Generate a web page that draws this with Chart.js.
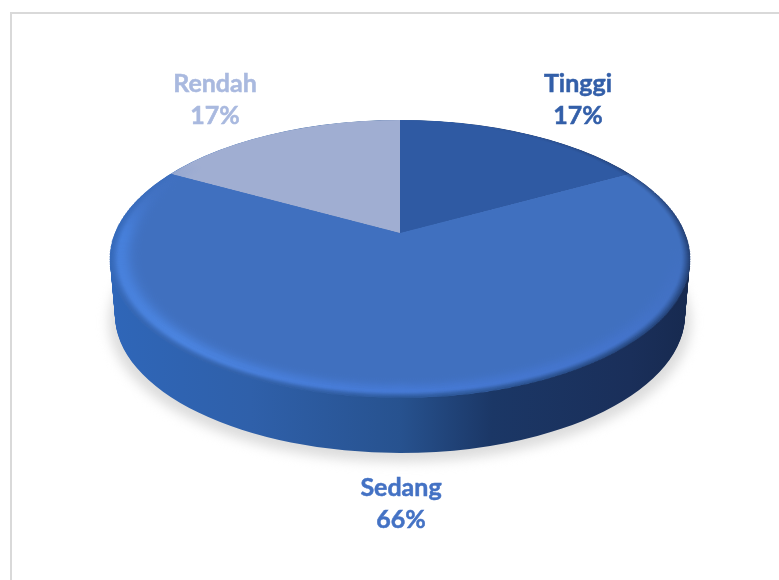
<!DOCTYPE html>
<html><head><meta charset="utf-8">
<style>
html,body{margin:0;padding:0;background:#fff;overflow:hidden;width:779px;height:580px}
#wrap{position:relative;width:779px;height:580px;overflow:hidden}
#frame{position:absolute;left:10px;top:12px;width:780px;height:600px;border:2px solid #d9d9d9;box-sizing:border-box}
#base{position:absolute;left:0;top:0}
#top{position:absolute;left:100px;top:-67px;transform-origin:50% 50%}
</style>
<script src="https://cdn.jsdelivr.net/npm/chart.js@4/dist/chart.umd.min.js"></script>
</head><body>
<div id="wrap">
<div id="frame"></div>
<canvas id="base" width="779" height="580"></canvas>
<canvas id="top" width="600" height="600"></canvas>
</div>
<script>
const categories = ['Tinggi', 'Sedang', 'Rendah'];
const values = [17, 66, 17];
const faceColors = ['#2f5aa3', '#4070bf', '#a0aed2'];
const labelColors = ['#335fa9', '#4472c4', '#a9b9df'];

// Look of the drawing (not data)
const labelAnchor = [[578, 84], [401, 488], [215, 84]];
const lineGap = 32;
const labelFont = 'bold 25px Lato, Carlito, sans-serif';
const persp = {a: 285, b: 134, w: -0.187, R: 300};
const topEllipse = {x: 400, y: 259, rx: 290, ry: 139};
const botEllipse = {x: 400, y: 315, rx: 285, ry: 138};

document.getElementById('top').style.transform =
  `matrix3d(${persp.a / persp.R},0,0,0, 0,${persp.b / persp.R},0,${persp.w / persp.R}, 0,0,1,0, 0,0,0,1)`;

function drawEllipseArcs(chart, e, fill) {
  const ctx = chart.ctx, arcs = chart.getDatasetMeta(0).data;
  const R = arcs[0].outerRadius, cx = arcs[0].x, cy = arcs[0].y;
  ctx.save();
  ctx.translate(e.x, e.y);
  ctx.scale(e.rx / R, e.ry / R);
  ctx.translate(-cx, -cy);
  arcs.forEach(arc => {
    const saved = arc.options.backgroundColor;
    arc.options.backgroundColor = fill(ctx, cx, R);
    arc.draw(ctx);
    arc.options.backgroundColor = saved;
  });
  ctx.restore();
}

const sidePlugin = {
  id: 'side',
  beforeDatasetsDraw(chart) {
    const ctx = chart.ctx;
    ctx.save();
    ctx.filter = 'blur(6px)';
    drawEllipseArcs(chart, {x: 400, y: 322, rx: 291, ry: 140}, () => '#dcdcdc');
    ctx.restore();
    const grad = (c, cx, R) => {
      const g = c.createLinearGradient(cx - R, 0, cx + R, 0);
      g.addColorStop(0, '#2f66b8');
      g.addColorStop(0.24, '#2f60aa');
      g.addColorStop(0.5, '#27528f');
      g.addColorStop(0.66, '#1b3766');
      g.addColorStop(0.9, '#1a2f5a');
      g.addColorStop(1, '#172a50');
      return g;
    };
    const n = 56;
    for (let i = 0; i <= n; i++) {
      const t = i / n;
      drawEllipseArcs(chart, {
        x: botEllipse.x,
        y: botEllipse.y + (topEllipse.y - botEllipse.y) * t,
        rx: botEllipse.rx + (topEllipse.rx - botEllipse.rx) * t,
        ry: botEllipse.ry + (topEllipse.ry - botEllipse.ry) * t
      }, grad);
    }
    return false;
  },
  afterDraw(chart) {
    const ctx = chart.ctx, total = values.reduce((s, v) => s + v, 0);
    ctx.save();
    ctx.font = labelFont;
    ctx.textAlign = 'center';
    ctx.textBaseline = 'middle';
    ctx.lineWidth = 0.5;
    categories.forEach((name, i) => {
      const pct = Math.round(values[i] / total * 100) + '%';
      const [x, y] = labelAnchor[i];
      ctx.fillStyle = ctx.strokeStyle = labelColors[i];
      ctx.fillText(name, x, y);
      ctx.strokeText(name, x, y);
      ctx.fillText(pct, x, y + lineGap);
      ctx.strokeText(pct, x, y + lineGap);
    });
    ctx.restore();
  }
};

function conic(ctx, cx, cy, stops) {
  const cg = ctx.createConicGradient(0, cx, cy);
  stops.forEach(s => cg.addColorStop(s[0], s[1]));
  return cg;
}

const rimPlugin = {
  id: 'rim',
  afterDatasetsDraw(chart) {
    const ctx = chart.ctx, arc = chart.getDatasetMeta(0).data[0];
    const cx = arc.x, cy = arc.y, R = arc.outerRadius;
    const light = conic(ctx, cx, cy, [
      [0, 'rgba(64,112,191,0)'], [0.05, 'rgba(68,114,200,.5)'], [0.125, 'rgba(70,118,212,.8)'],
      [0.25, 'rgba(72,126,224,.9)'], [0.375, 'rgba(80,142,240,1)'], [0.5, 'rgba(74,136,234,.95)'],
      [0.55, 'rgba(70,120,210,.3)'], [0.6, 'rgba(70,112,190,0)'], [1, 'rgba(64,112,191,0)']
    ]);
    const wall = conic(ctx, cx, cy, [
      [0, 'rgba(26,47,90,1)'], [0.125, 'rgba(27,55,102,1)'], [0.25, 'rgba(39,82,143,1)'],
      [0.375, 'rgba(47,96,170,1)'], [0.5, 'rgba(47,102,184,1)'], [0.55, 'rgba(47,102,184,.4)'],
      [0.6, 'rgba(47,102,184,0)'], [0.8, 'rgba(26,47,90,0)'], [0.9, 'rgba(26,47,90,.45)'], [1, 'rgba(26,47,90,1)']
    ]);
    ctx.save();
    ctx.beginPath();
    ctx.arc(cx, cy, R, 0, Math.PI * 2);
    ctx.clip();
    ctx.lineWidth = 1.3;
    ctx.strokeStyle = light;
    for (let d = 0; d < 40; d++) {
      const sigma = d < 10 ? 6 : 11;
      ctx.globalAlpha = 0.6 * Math.exp(-Math.pow((d - 10) / sigma, 2));
      ctx.beginPath();
      ctx.arc(cx, cy, R - d, 0, Math.PI * 2);
      ctx.stroke();
    }
    ctx.strokeStyle = wall;
    for (let d = 0; d < 9; d++) {
      ctx.globalAlpha = 0.75 * Math.pow(1 - d / 9, 1.4);
      ctx.beginPath();
      ctx.arc(cx, cy, R - d, 0, Math.PI * 2);
      ctx.stroke();
    }
    ctx.restore();
  }
};

function makePie(id, plugin) {
  return new Chart(document.getElementById(id), {
    type: 'pie',
    data: {labels: categories, datasets: [{data: values, backgroundColor: faceColors, borderWidth: 0}]},
    options: {
      responsive: false, animation: false, devicePixelRatio: 1,
      layout: {padding: 0},
      plugins: {legend: {display: false}, tooltip: {enabled: false}}
    },
    plugins: [plugin]
  });
}
makePie('base', sidePlugin);
makePie('top', rimPlugin);
</script>
</body></html>
